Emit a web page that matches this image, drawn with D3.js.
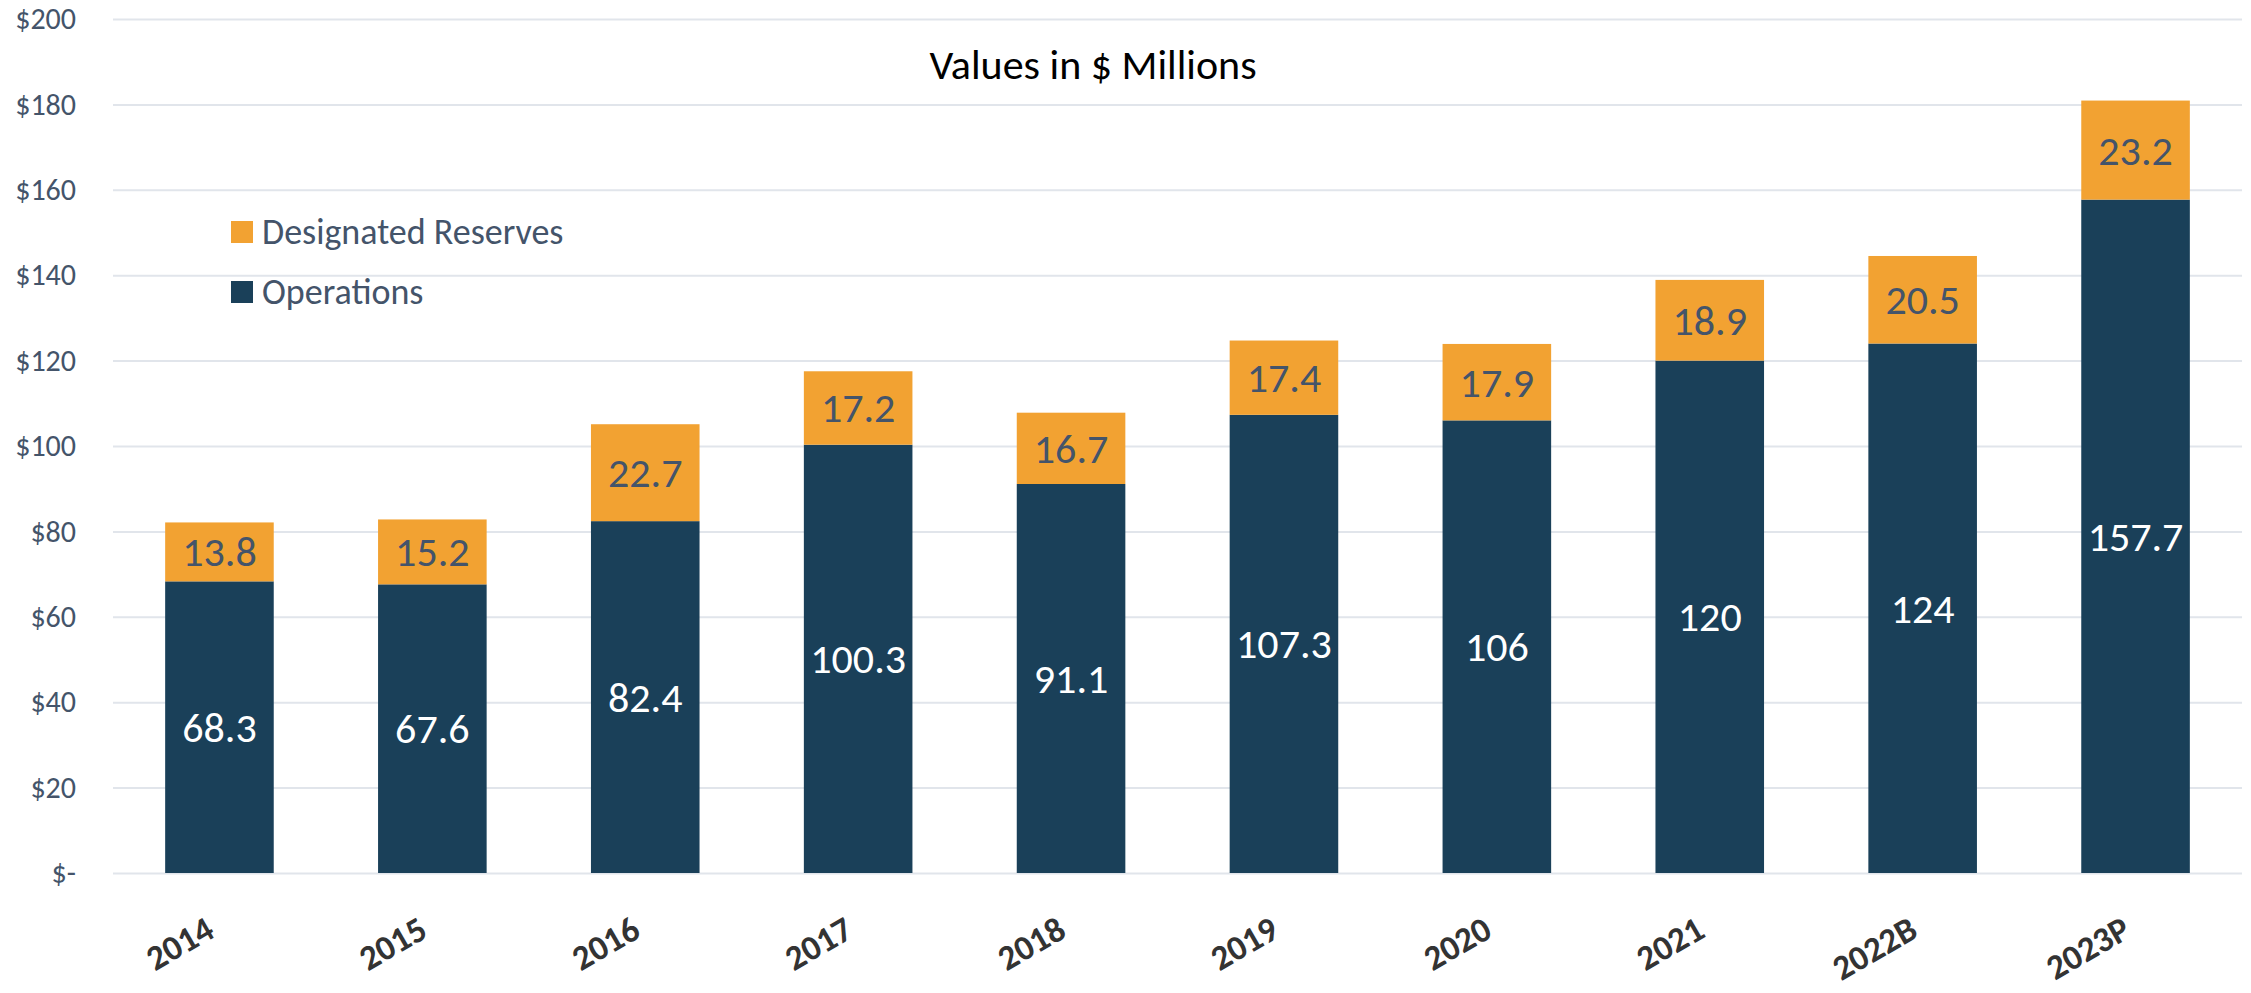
<!DOCTYPE html>
<html>
<head>
<meta charset="utf-8">
<script src="https://cdn.jsdelivr.net/npm/d3@7"></script>
<style>
  body { margin: 0; background: #fff; }
  svg { display: block; font-family: Calibri, Carlito, Lato, sans-serif; }
</style>
</head>
<body>
<div id="chart"></div>
<script>
const years = ["2014", "2015", "2016", "2017", "2018", "2019", "2020", "2021", "2022B", "2023P"];
const operations = [68.3, 67.6, 82.4, 100.3, 91.1, 107.3, 106, 120, 124, 157.7];
const reserves = [13.8, 15.2, 22.7, 17.2, 16.7, 17.4, 17.9, 18.9, 20.5, 23.2];
const yTicks = [0, 20, 40, 60, 80, 100, 120, 140, 160, 180, 200];
const seriesNames = ["Designated Reserves", "Operations"];

const W = 2251, H = 993;
const navy = "#1a4059", orange = "#f2a232", slate = "#44546a";

const svg = d3.select("#chart")
    .append("svg")
    .attr("width", W)
    .attr("height", H);

const x = d3.scaleBand()
    .domain(years)
    .range([113, 2242])
    .paddingInner(0.49)
    .paddingOuter(0.245);

const y = d3.scaleLinear()
    .domain([0, 200])
    .range([873, 19]);

// gridlines + y labels
const yAxis = svg.append("g")
    .attr("transform", "translate(113,0)")
    .call(d3.axisLeft(y)
        .tickValues(yTicks)
        .tickSize(-(2242 - 113))
        .tickPadding(37)
        .tickFormat(d => d === 0 ? "$-" : "$" + d));
yAxis.select(".domain").remove();
yAxis.selectAll(".tick line").attr("stroke", "#e1e5eb").attr("stroke-width", 2);
yAxis.selectAll(".tick text")
    .attr("fill", slate)
    .style("font-size", "30px")
    .style("font-family", "Calibri, Carlito, Lato, sans-serif");

const rows = years.map((yr, i) => ({ year: yr, ops: operations[i], res: reserves[i] }));

// operations segment
svg.append("g").selectAll("rect")
    .data(rows)
    .join("rect")
    .attr("x", d => x(d.year))
    .attr("width", x.bandwidth())
    .attr("y", d => y(d.ops))
    .attr("height", d => y(0) - y(d.ops))
    .attr("fill", navy);

// reserves segment
svg.append("g").selectAll("rect")
    .data(rows)
    .join("rect")
    .attr("x", d => x(d.year))
    .attr("width", x.bandwidth())
    .attr("y", d => y(d.ops + d.res))
    .attr("height", d => y(d.ops) - y(d.ops + d.res))
    .attr("fill", orange);

// value labels
svg.append("g").selectAll("text")
    .data(rows)
    .join("text")
    .attr("x", d => x(d.year) + x.bandwidth() / 2)
    .attr("y", d => (y(0) + y(d.ops)) / 2)
    .attr("text-anchor", "middle")
    .attr("dominant-baseline", "central")
    .attr("fill", "#fff")
    .style("font-size", "42px")
    .text(d => d.ops);

svg.append("g").selectAll("text")
    .data(rows)
    .join("text")
    .attr("x", d => x(d.year) + x.bandwidth() / 2)
    .attr("y", d => (y(d.ops) + y(d.ops + d.res)) / 2)
    .attr("text-anchor", "middle")
    .attr("dominant-baseline", "central")
    .attr("fill", slate)
    .style("font-size", "42px")
    .text(d => d.res);

// x labels, rotated
svg.append("g").selectAll("text")
    .data(years)
    .join("text")
    .attr("transform", d => `translate(${x(d) + x.bandwidth() / 2 - 3},936) rotate(-30)`)
    .attr("text-anchor", "end")
    .attr("fill", "#333")
    .style("font-size", "35px")
    .style("font-weight", "bold")
    .text(d => d);

// title
svg.append("text")
    .attr("x", 1093)
    .attr("y", 79)
    .attr("text-anchor", "middle")
    .attr("fill", "#000")
    .style("font-size", "42px")
    .text("Values in $ Millions");

// legend
const legendColors = [orange, navy];
const legend = svg.append("g").selectAll("g")
    .data(seriesNames)
    .join("g")
    .attr("transform", (d, i) => `translate(231,${221 + i * 60})`);
legend.append("rect")
    .attr("width", 22)
    .attr("height", 22)
    .attr("fill", (d, i) => legendColors[i]);
legend.append("text")
    .attr("x", 31)
    .attr("y", 11)
    .attr("dominant-baseline", "central")
    .attr("fill", slate)
    .style("font-size", "36px")
    .text(d => d);
</script>
</body>
</html>
